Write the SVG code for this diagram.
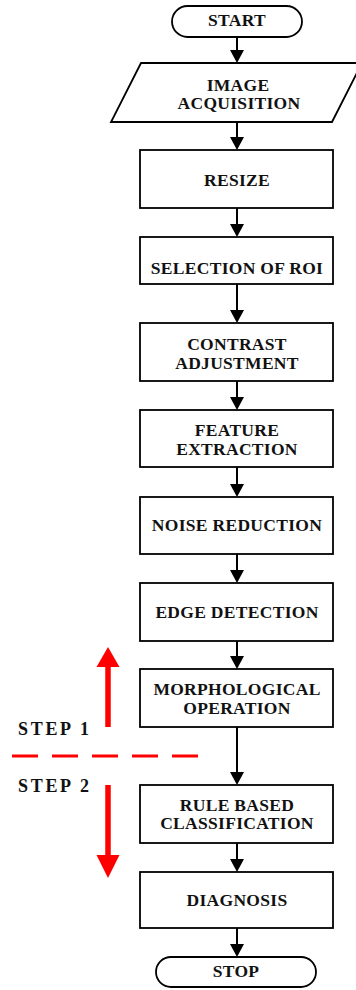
<svg xmlns="http://www.w3.org/2000/svg" width="356" height="990" viewBox="0 0 356 990">
<style>
.n{fill:#fff;stroke:#000;stroke-width:1.8}
.t{font-family:"Liberation Serif","Times New Roman",serif;font-weight:bold;font-size:17.5px;fill:#111;text-anchor:middle;letter-spacing:0.3px}
.s{font-family:"Liberation Serif","Times New Roman",serif;font-weight:bold;font-size:18px;fill:#111;letter-spacing:2.7px}
.c{stroke:#000;stroke-width:2;fill:none}
.h{fill:#000}
.r{stroke:#f00;stroke-width:5.5;fill:none}
.rh{fill:#f00}
</style>
<rect width="356" height="990" fill="#fff"/>
<g id="connectors">
<path class="c" d="M237 37V52M237 122V139M237 208V226M237 284V312M237 381V399M237 467V486M237 554V572M237 641V658M237 727V774M237 843V861M237 928V946"/>
<polygon class="h" points="230,50 244,50 237,63"/>
<polygon class="h" points="230,137 244,137 237,150"/>
<polygon class="h" points="230,224 244,224 237,237"/>
<polygon class="h" points="230,310 244,310 237,323"/>
<polygon class="h" points="230,397 244,397 237,410"/>
<polygon class="h" points="230,484 244,484 237,497"/>
<polygon class="h" points="230,570 244,570 237,583"/>
<polygon class="h" points="230,656 244,656 237,669"/>
<polygon class="h" points="230,772 244,772 237,785"/>
<polygon class="h" points="230,859 244,859 237,872"/>
<polygon class="h" points="230,944 244,944 237,957"/>
</g>
<g id="start"><rect class="n" x="172" y="6" width="130" height="31" rx="15.5"/><text class="t" x="237" y="26">START</text></g>
<g id="acquisition"><polygon class="n" points="141,63 362,63 332,122 111,122"/><text class="t" x="238" y="91">IMAGE</text><text class="t" x="239" y="109">ACQUISITION</text></g>
<g id="resize"><rect class="n" x="140" y="150" width="193" height="58"/><text class="t" x="237" y="186">RESIZE</text></g>
<g id="roi"><rect class="n" x="140" y="237" width="193" height="47"/><text class="t" x="237" y="274">SELECTION OF ROI</text></g>
<g id="contrast"><rect class="n" x="140" y="323" width="193" height="58"/><text class="t" x="237" y="350">CONTRAST</text><text class="t" x="237" y="369">ADJUSTMENT</text></g>
<g id="feature"><rect class="n" x="140" y="410" width="193" height="57"/><text class="t" x="237" y="436">FEATURE</text><text class="t" x="237" y="455">EXTRACTION</text></g>
<g id="noise"><rect class="n" x="140" y="497" width="193" height="57"/><text class="t" x="237" y="531">NOISE REDUCTION</text></g>
<g id="edge"><rect class="n" x="140" y="583" width="193" height="58"/><text class="t" x="237" y="618">EDGE DETECTION</text></g>
<g id="morph"><rect class="n" x="140" y="669" width="193" height="58"/><text class="t" x="237" y="695">MORPHOLOGICAL</text><text class="t" x="237" y="714">OPERATION</text></g>
<g id="rule"><rect class="n" x="140" y="785" width="193" height="58"/><text class="t" x="237" y="811">RULE BASED</text><text class="t" x="237" y="829">CLASSIFICATION</text></g>
<g id="diagnosis"><rect class="n" x="140" y="872" width="193" height="56"/><text class="t" x="237" y="906">DIAGNOSIS</text></g>
<g id="stop"><rect class="n" x="156" y="957" width="160" height="30" rx="15"/><text class="t" x="236" y="977">STOP</text></g>
<g id="steps">
<path class="r" d="M108 727V664"/>
<polygon class="rh" points="96.5,667 119.5,667 108,647"/>
<path class="r" d="M108 785V857"/>
<polygon class="rh" points="96.5,855 119.5,855 108,878"/>
<path d="M12 756H200" stroke="#f00" stroke-width="3" stroke-dasharray="26 14"/>
<text class="s" x="18" y="735">STEP 1</text>
<text class="s" x="18" y="792">STEP 2</text>
</g>
</svg>
